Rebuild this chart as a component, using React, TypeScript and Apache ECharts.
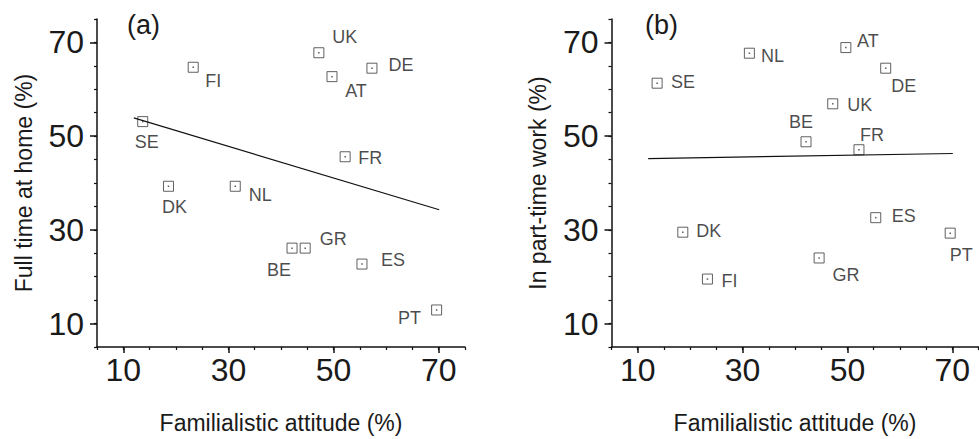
import React, { useEffect, useRef } from "react";
import * as echarts from "echarts";

const countries = ["SE", "DK", "FI", "NL", "BE", "GR", "UK", "AT", "FR", "ES", "DE", "PT"];
const familialism = [13.7, 18.6, 23.3, 31.3, 42.1, 44.6, 47.2, 49.7, 52.2, 55.4, 57.3, 69.6];
const fullTimeAtHome = [53.1, 39.3, 64.7, 39.3, 26.1, 26.1, 67.8, 62.7, 45.6, 22.7, 64.5, 12.9];
const partTimeWork = [61.3, 29.5, 19.5, 67.7, 48.8, 24.0, 56.9, 68.9, 47.1, 32.6, 64.5, 29.3];

const fitX = [12.0, 70.1];
const fitA = [53.9, 34.3];
const fitB = [45.2, 46.3];

const tickLabels = [10, 30, 50, 70];

// label placement (pixel offsets from marker centre) – styling only
const labelOffsetA: Record<string, number[]> = {
  SE: [4, 20], DK: [6, 21], FI: [20, 14], NL: [25, 9], BE: [-13, 22], GR: [28, -9],
  UK: [26, -16], AT: [24, 14], FR: [25, 1], ES: [31, -4], DE: [29, -3], PT: [-27, 8],
};
const labelOffsetB: Record<string, number[]> = {
  SE: [26, -1], DK: [26, -1], FI: [22, 2], NL: [23, 3], BE: [-5, -20], GR: [27, 17],
  UK: [27, 1], AT: [22, -7], FR: [13, -15], ES: [28, -2], DE: [18, 18], PT: [11, 22],
};

const FONT = "Liberation Sans, Arial, Helvetica, sans-serif";
const TXT = "#1a1a1a";

export default function App() {
  const ref = useRef<HTMLDivElement>(null);
  useEffect(() => {
    if (!ref.current) return;
    const chart = echarts.init(ref.current, undefined, { renderer: "svg" });

    const grids = [
      { left: 97, top: 19, width: 368, height: 331 },
      { left: 611.5, top: 19, width: 367, height: 331 },
    ];

    const mainX = (gi: number) => ({
      type: "value", gridIndex: gi, min: 5, max: 75, interval: 5,
      name: "Familialistic attitude (%)", nameLocation: "middle", nameGap: 64,
      nameTextStyle: { fontFamily: FONT, fontSize: 23, color: TXT },
      axisLine: { lineStyle: { color: "#111", width: 1.5 } },
      axisTick: { show: true, customValues: tickLabels, length: 6, lineStyle: { color: "#111", width: 1.5 } },
      axisLabel: { customValues: tickLabels, fontFamily: FONT, fontSize: 32, color: TXT, margin: 7 },
      splitLine: { show: false },
    });
    const minorX = (gi: number) => ({
      type: "value", gridIndex: gi, min: 5, max: 75, interval: 5, position: "bottom",
      axisLine: { show: false },
      axisTick: { show: true, length: 3, lineStyle: { color: "#111", width: 1.2 } },
      axisLabel: { show: false }, splitLine: { show: false },
    });
    const mainY = (gi: number, name: string) => ({
      type: "value", gridIndex: gi, min: 5, max: 75, interval: 5,
      name, nameLocation: "middle", nameGap: 62,
      nameTextStyle: { fontFamily: FONT, fontSize: 23, color: TXT },
      axisLine: { lineStyle: { color: "#111", width: 1.5 } },
      axisTick: { show: true, customValues: tickLabels, length: 7, lineStyle: { color: "#111", width: 1.5 } },
      axisLabel: { customValues: tickLabels, fontFamily: FONT, fontSize: 32, color: TXT, margin: 13 },
      splitLine: { show: false },
    });
    const minorY = (gi: number) => ({
      type: "value", gridIndex: gi, min: 5, max: 75, interval: 5, position: "left",
      axisLine: { show: false },
      axisTick: { show: true, length: 3, lineStyle: { color: "#111", width: 1.2 } },
      axisLabel: { show: false }, splitLine: { show: false },
    });

    const scatterSeries = (xi: number, yi: number, ys: number[], offsets: Record<string, number[]>) => [
      {
        type: "scatter", xAxisIndex: xi, yAxisIndex: yi,
        symbol: "rect", symbolSize: 10,
        itemStyle: { color: "rgba(255,255,255,0)", borderColor: "#3a3a3a", borderWidth: 1 },
        data: familialism.map((x, i) => ({
          value: [x, ys[i]], name: countries[i],
          label: {
            show: true, position: "inside", offset: offsets[countries[i]],
            formatter: countries[i], fontFamily: FONT, fontSize: 18, color: TXT,
            align: "center", verticalAlign: "middle",
          },
        })),
      },
      {
        type: "scatter", xAxisIndex: xi, yAxisIndex: yi,
        symbol: "rect", symbolSize: 1.5, itemStyle: { color: "#333" },
        data: familialism.map((x, i) => [x, ys[i]]),
      },
    ];

    const fitSeries = (xi: number, yi: number, ys: number[]) => ({
      type: "line", xAxisIndex: xi, yAxisIndex: yi, showSymbol: false, symbol: "none",
      lineStyle: { color: "#111", width: 1.2 },
      data: fitX.map((x, i) => [x, ys[i]]),
    });

    chart.setOption({
      animation: false,
      backgroundColor: "#fff",
      grid: grids,
      xAxis: [mainX(0), mainX(1), minorX(0), minorX(1)],
      yAxis: [mainY(0, "Full time at home (%)"), mainY(1, "In part-time work (%)"), minorY(0), minorY(1)],
      series: [
        fitSeries(0, 0, fitA),
        ...scatterSeries(0, 0, fullTimeAtHome, labelOffsetA),
        fitSeries(1, 1, fitB),
        ...scatterSeries(1, 1, partTimeWork, labelOffsetB),
      ],
      graphic: [
        { type: "text", left: 127, top: 11, style: { text: "(a)", fontFamily: FONT, fontSize: 27, fill: TXT } },
        { type: "text", left: 645, top: 11, style: { text: "(b)", fontFamily: FONT, fontSize: 27, fill: TXT } },
      ],
    });
    return () => chart.dispose();
  }, []);
  return <div ref={ref} style={{ position: "fixed", left: 0, top: 0, width: 979, height: 439 }} />;
}
